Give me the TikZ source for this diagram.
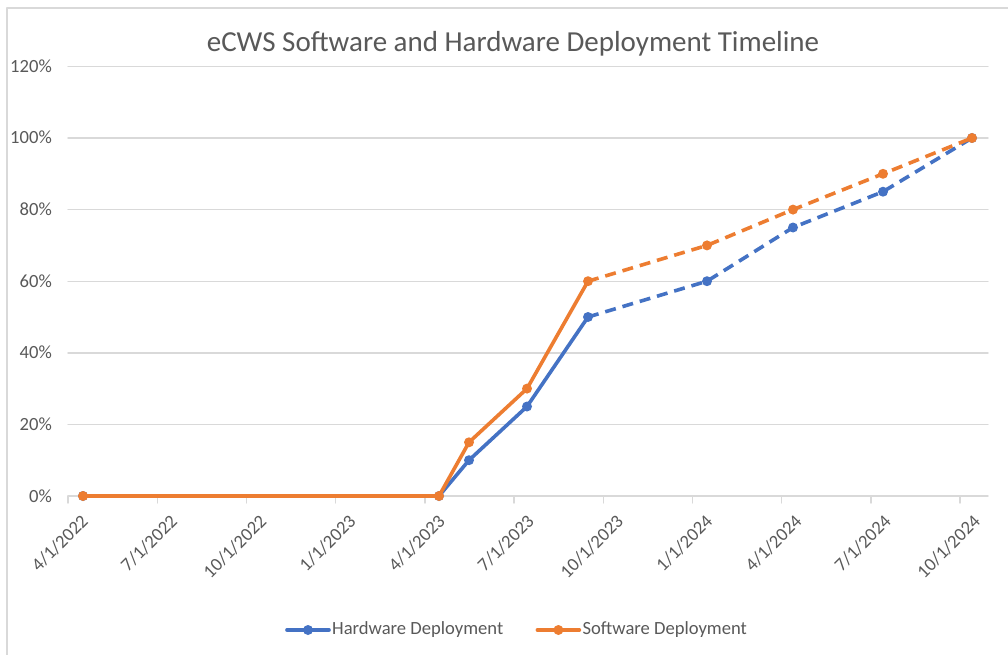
\documentclass[tikz,border=0pt]{standalone}
\usepackage{fontspec}
\setmainfont{Carlito}
\usetikzlibrary{positioning}

\definecolor{hwblue}{HTML}{4472C4}
\definecolor{sworange}{HTML}{ED7D31}
\definecolor{txtgray}{HTML}{595959}
\definecolor{gridgray}{HTML}{D9D9D9}

\begin{document}
\begin{tikzpicture}[x=1pt, y=-1pt, line cap=round, line join=round,
  gridline/.style={gridgray, line width=1.4pt},
  axlabel/.style={text=txtgray, font=\fontsize{18.6}{18.6}\selectfont, inner sep=0pt},
  hwline/.style={hwblue, line width=3.6pt},
  swline/.style={sworange, line width=3.6pt},
  proj/.style={dash pattern=on 11pt off 7pt, line cap=butt}]

\useasboundingbox (0,0) rectangle (1008,655);
\fill[white] (0,0) rectangle (1008,655);

% chart frame
\draw[gridgray, line width=1.5pt] (7,655) -- (7,8) -- (1008,8);

% title
\node[text=txtgray, font=\fontsize{29}{29}\selectfont, inner sep=0pt, anchor=base] (title) at (513,52)
    {eCWS Software and Hardware Deployment Timeline};

% gridlines and percent labels
\foreach \p in {0,20,...,120} {
    \draw[gridline] (68,{496-3.58*\p}) -- (988,{496-3.58*\p});
    \node[axlabel, anchor=base east] (y\p) at (52,{502-3.58*\p}) {\p\%};
}

% date ticks and labels
\foreach \m/\yr [count=\i from 0] in {4/2022,7/2022,10/2022,1/2023,4/2023,7/2023,10/2023,1/2024,4/2024,7/2024,10/2024} {
    \draw[gridline] ({68+89.2*\i},496) -- ({68+89.2*\i},503);
    \node[axlabel, rotate=45, anchor=east] (d\i) at ({68+89.2*\i+17},518) {\m/1/\yr};
}

% data points
\foreach \x/\p [count=\i] in {83/0,439/0,469/10,527/25,588/50,707/60,793/75,883/85,972/100}
    \coordinate (hw\i) at (\x,{496-3.58*\p});
\foreach \x/\p [count=\i] in {83/0,439/0,469/15,527/30,588/60,707/70,793/80,883/90,972/100}
    \coordinate (sw\i) at (\x,{496-3.58*\p});

% hardware series
\draw[hwline] (hw1) -- (hw2) -- (hw3) -- (hw4) -- (hw5);
\draw[hwline, proj] (hw5) -- (hw6) -- (hw7) -- (hw8) -- (hw9);
\foreach \i in {1,...,9}
    \fill[hwblue] (hw\i) circle[radius=5pt];

% software series
\draw[swline] (sw1) -- (sw2) -- (sw3) -- (sw4) -- (sw5);
\draw[swline, proj] (sw5) -- (sw6) -- (sw7) -- (sw8) -- (sw9);
\foreach \i in {1,...,9}
    \fill[sworange] (sw\i) circle[radius=5pt];

% legend
\coordinate (hwkey) at (308,630);
\draw[hwline] ([xshift=-21pt]hwkey) -- ([xshift=21pt]hwkey) coordinate (hwkeyend);
\fill[hwblue] (hwkey) circle[radius=5pt];
\node[axlabel, right=3pt of hwkeyend] (hwtext) {Hardware Deployment};

\coordinate[right=55pt of hwtext.east] (swkey);
\draw[swline] ([xshift=-21pt]swkey) -- ([xshift=21pt]swkey) coordinate (swkeyend);
\fill[sworange] (swkey) circle[radius=5pt];
\node[axlabel, right=3pt of swkeyend] (swtext) {Software Deployment};

\end{tikzpicture}
\end{document}
